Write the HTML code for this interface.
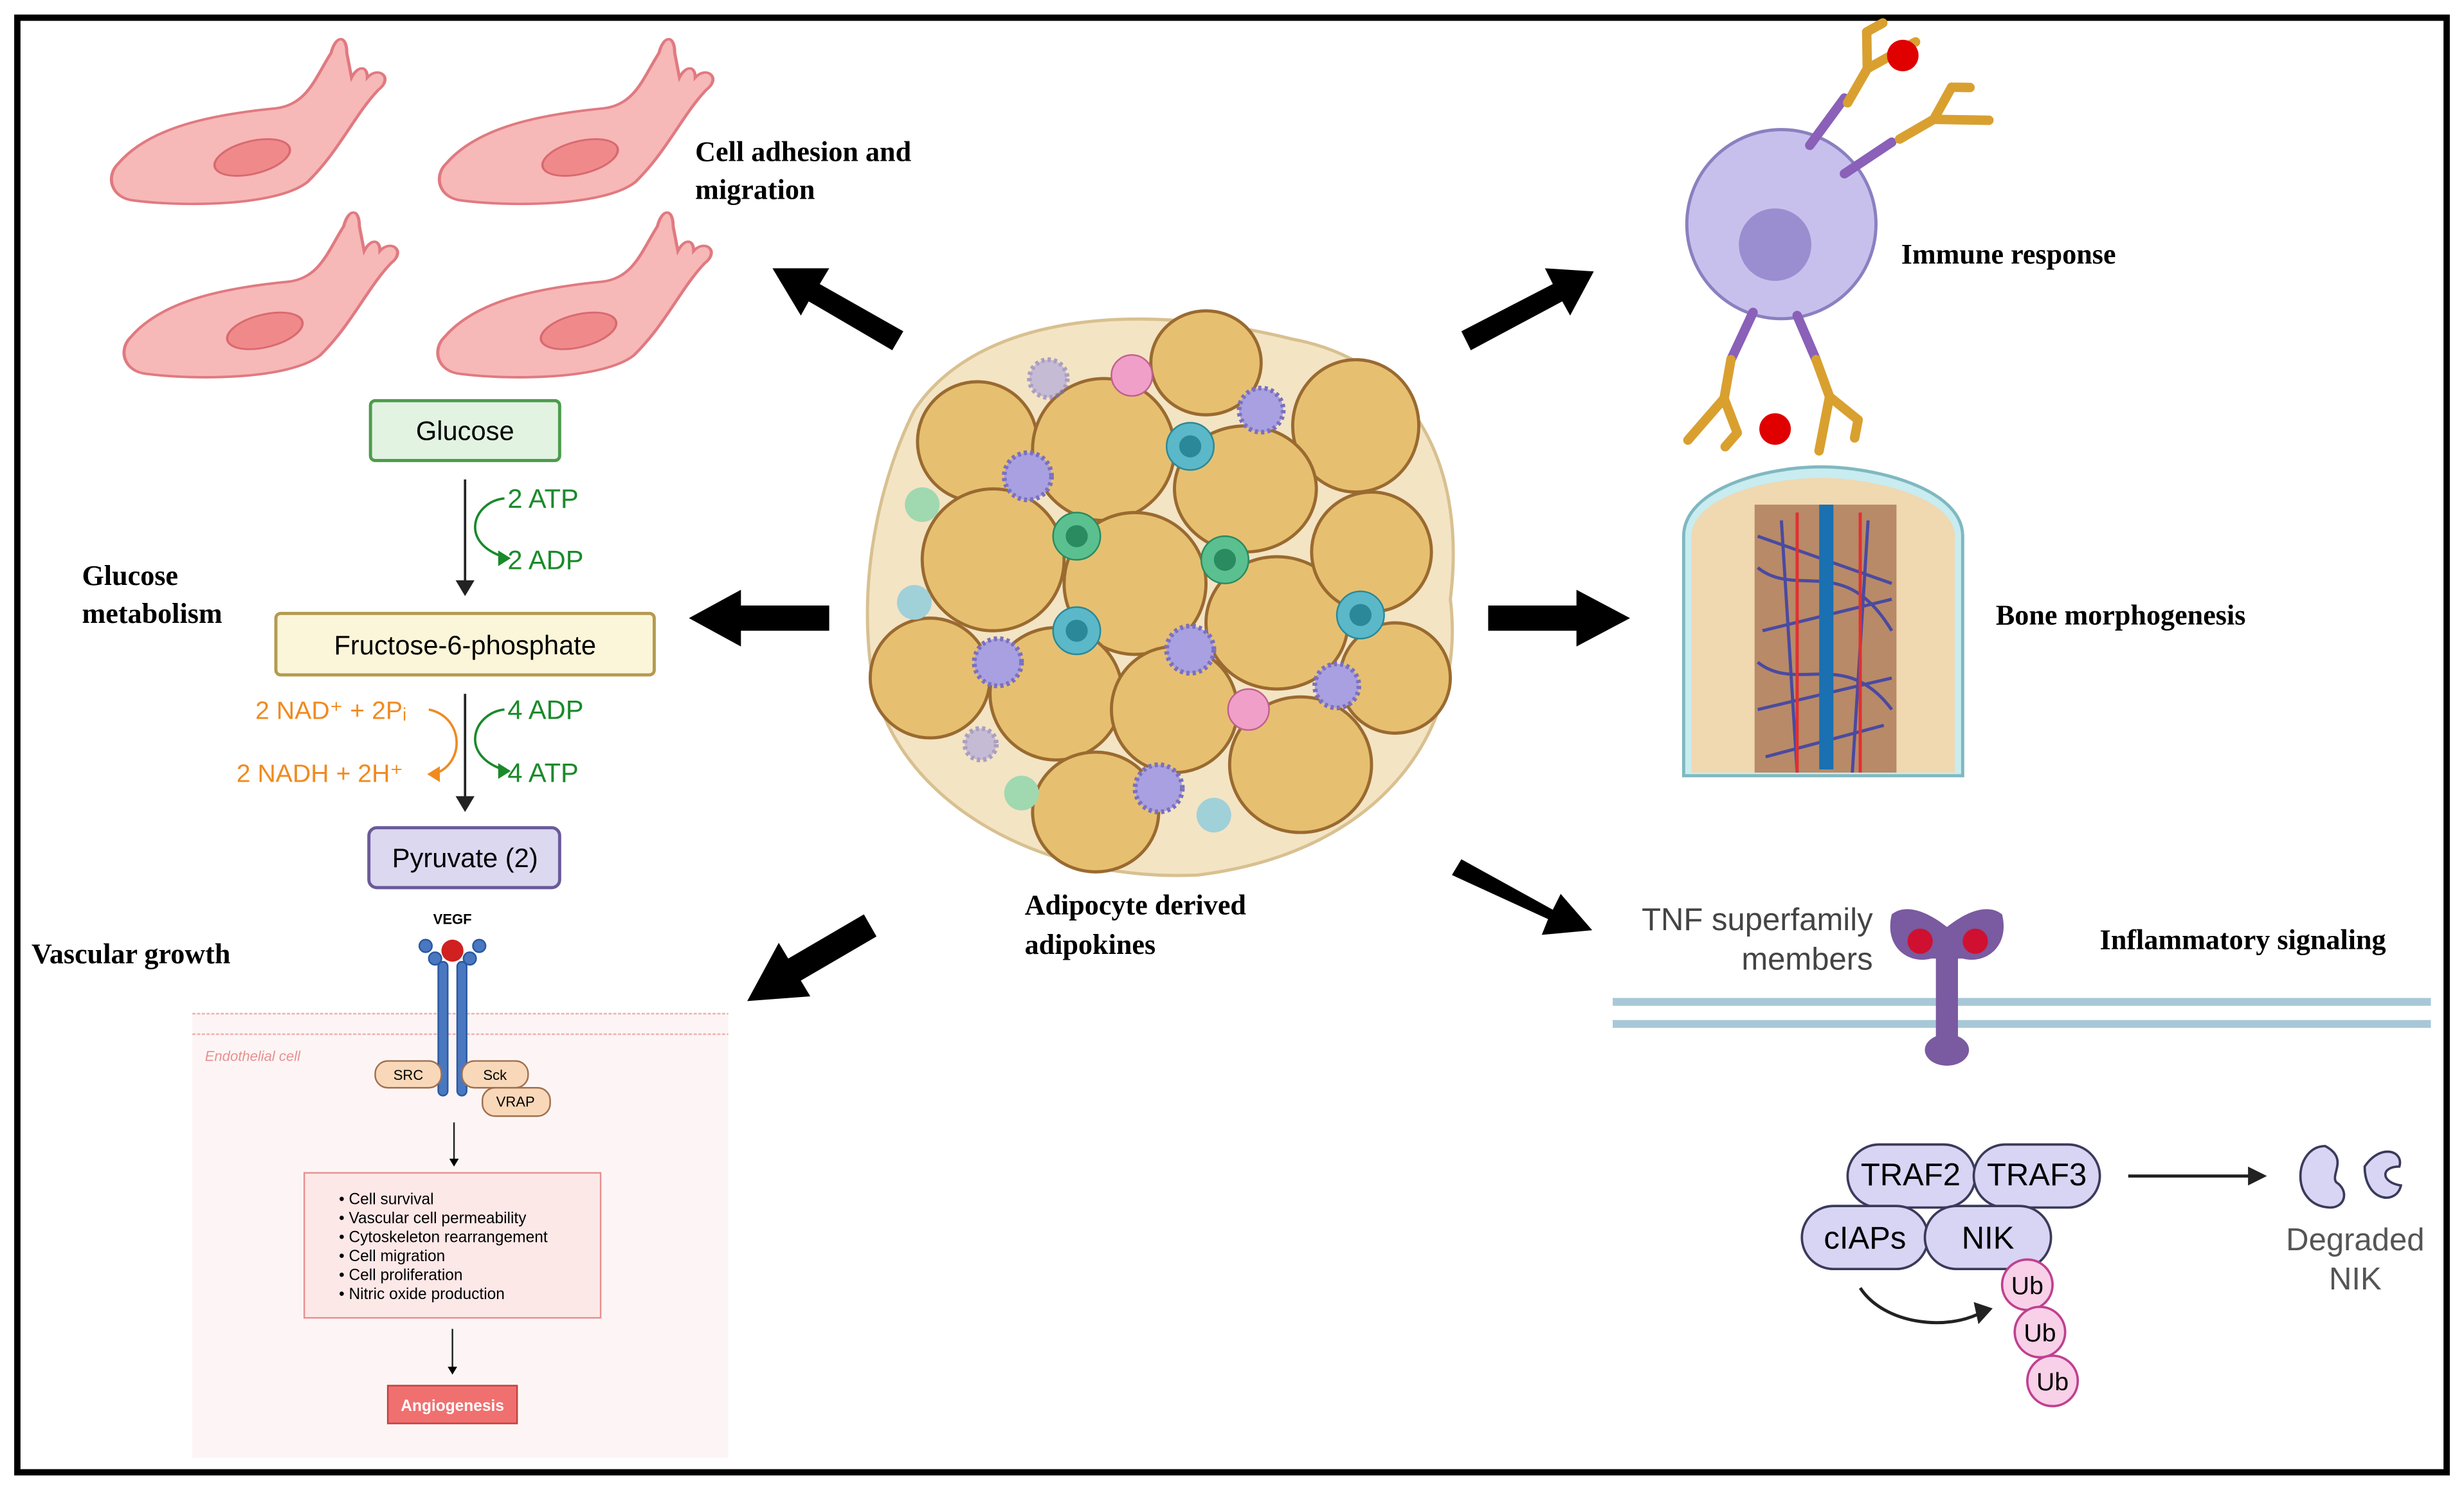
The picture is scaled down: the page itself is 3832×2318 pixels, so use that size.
<!DOCTYPE html>
<html><head><meta charset="utf-8">
<style>
html,body{margin:0;padding:0;background:#fff;}
svg{display:block;}
.lab{font-family:"Liberation Serif",serif;font-weight:bold;font-size:18px;fill:#000;}
.sans{font-family:"Liberation Sans",sans-serif;}
</style></head><body>
<svg width="3832" height="2318" viewBox="0 0 1563 945" xmlns="http://www.w3.org/2000/svg">
<rect x="0" y="0" width="1563" height="945" fill="#fff"/>
<rect x="11" y="11" width="1541" height="923" fill="none" stroke="#000" stroke-width="4"/>

<defs>
<g id="cell">
<path d="M0,70 C20,40 60,30 100,25 C120,22 125,0 135,-20 C138,-35 145,-35 145,-20 L148,0 C152,-10 158,-10 158,0 C165,-10 175,0 165,10 C150,30 140,60 120,85 C100,105 40,105 10,100 C-5,98 -8,80 0,70 Z" fill="#f7b8b8" stroke="#e07a80" stroke-width="2"/>
<ellipse cx="85" cy="65" rx="25" ry="13" fill="#f08a8a" stroke="#d86a70" stroke-width="1.5" transform="rotate(-20 85 65)"/>
</g>
<g id="ab" stroke="#d9a030" stroke-width="6" fill="none" stroke-linecap="round">
<path d="M0,0 L0,-25 M0,-25 L-12,-45 M0,-25 L12,-45 M-12,-45 L-6,-55 M12,-45 L18,-55"/>
</g>
</defs>
<use href="#cell" transform="translate(75,49) scale(1,0.78)"/>
<use href="#cell" transform="translate(283,49) scale(1,0.78)"/>
<use href="#cell" transform="translate(83,159) scale(1,0.78)"/>
<use href="#cell" transform="translate(282,159) scale(1,0.78)"/>
<text class="lab" x="441" y="102">Cell adhesion and</text>
<text class="lab" x="441" y="126">migration</text>

<text class="lab" x="52" y="371">Glucose</text>
<text class="lab" x="52" y="395">metabolism</text>
<rect x="235" y="254" width="120" height="38" rx="3" fill="#e2f3e2" stroke="#4c9c4c" stroke-width="2"/>
<text class="sans" x="295" y="279" font-size="17" text-anchor="middle">Glucose</text>
<line x1="295" y1="304" x2="295" y2="373" stroke="#222" stroke-width="1.5"/>
<path d="M289,368 L295,378 L301,368 Z" fill="#222"/>
<path d="M320,316 C300,318 290,345 322,354" fill="none" stroke="#1a8a2a" stroke-width="1.5"/>
<path d="M316,349 L324,354 L316,359 Z" fill="#1a8a2a"/>
<text class="sans" x="322" y="322" font-size="17" fill="#1a8a2a">2 ATP</text>
<text class="sans" x="322" y="361" font-size="17" fill="#1a8a2a">2 ADP</text>
<rect x="175" y="389" width="240" height="39" rx="3" fill="#fbf6d9" stroke="#b59a50" stroke-width="2"/>
<text class="sans" x="295" y="415" font-size="17" text-anchor="middle">Fructose-6-phosphate</text>
<line x1="295" y1="440" x2="295" y2="510" stroke="#222" stroke-width="1.5"/>
<path d="M289,505 L295,515 L301,505 Z" fill="#222"/>
<path d="M320,450 C300,452 290,480 322,489" fill="none" stroke="#1a8a2a" stroke-width="1.5"/>
<path d="M316,484 L324,489 L316,494 Z" fill="#1a8a2a"/>
<text class="sans" x="322" y="456" font-size="17" fill="#1a8a2a">4 ADP</text>
<text class="sans" x="322" y="496" font-size="17" fill="#1a8a2a">4 ATP</text>
<path d="M272,450 C295,455 295,485 275,491" fill="none" stroke="#f08a20" stroke-width="1.5"/>
<path d="M279,486 L271,491 L279,496 Z" fill="#f08a20"/>
<text class="sans" x="162" y="456" font-size="16" fill="#f08a20">2 NAD⁺ + 2Pᵢ</text>
<text class="sans" x="150" y="496" font-size="16" fill="#f08a20">2 NADH + 2H⁺</text>
<rect x="234" y="525" width="121" height="38" rx="5" fill="#dcd8f0" stroke="#6a5a9a" stroke-width="2"/>
<text class="sans" x="295" y="550" font-size="17" text-anchor="middle">Pyruvate (2)</text>

<text class="lab" x="20" y="611">Vascular growth</text>
<rect x="122" y="643" width="340" height="282" fill="#fdf5f5"/>
<line x1="122" y1="643" x2="462" y2="643" stroke="#f0b0b0" stroke-width="1" stroke-dasharray="2,1"/>
<line x1="122" y1="656" x2="462" y2="656" stroke="#f0b0b0" stroke-width="1" stroke-dasharray="2,1"/>
<text class="sans" x="130" y="673" font-size="9" fill="#e89090" font-style="italic">Endothelial cell</text>
<text class="sans" x="287" y="586" font-size="9" text-anchor="middle" font-weight="bold">VEGF</text>
<g fill="#4a78c0" stroke="#2a58a0" stroke-width="1">
<rect x="278" y="610" width="6" height="85" rx="3"/>
<rect x="290" y="610" width="6" height="85" rx="3"/>
<circle cx="270" cy="600" r="4"/><circle cx="304" cy="600" r="4"/>
<circle cx="276" cy="608" r="4"/><circle cx="298" cy="608" r="4"/>
</g>
<circle cx="287" cy="603" r="7" fill="#d02020"/>
<rect x="238" y="673" width="42" height="17" rx="8" fill="#f8d8b8" stroke="#a07050"/>
<text class="sans" x="259" y="685" font-size="9" text-anchor="middle">SRC</text>
<rect x="293" y="673" width="42" height="17" rx="8" fill="#f8d8b8" stroke="#a07050"/>
<text class="sans" x="314" y="685" font-size="9" text-anchor="middle">Sck</text>
<rect x="306" y="690" width="43" height="18" rx="8" fill="#f8d8b8" stroke="#a07050"/>
<text class="sans" x="327" y="702" font-size="9" text-anchor="middle">VRAP</text>
<line x1="288" y1="712" x2="288" y2="738" stroke="#222"/>
<path d="M285,735 L288,740 L291,735Z"/>
<rect x="193" y="744" width="188" height="92" fill="#fde8e8" stroke="#e89090"/>
<g class="sans" font-size="10">
<text x="215" y="764">•  Cell survival</text>
<text x="215" y="776">•  Vascular cell permeability</text>
<text x="215" y="788">•  Cytoskeleton rearrangement</text>
<text x="215" y="800">•  Cell migration</text>
<text x="215" y="812">•  Cell proliferation</text>
<text x="215" y="824">•  Nitric oxide production</text>
</g>
<line x1="287" y1="843" x2="287" y2="870" stroke="#222"/>
<path d="M284,867 L287,872 L290,867Z"/>
<rect x="246" y="879" width="82" height="24" fill="#f07070" stroke="#c04040"/>
<text class="sans" x="287" y="895" font-size="10" fill="#fff" text-anchor="middle" font-weight="bold">Angiogenesis</text>

<g fill="#000">
<path d="M573,210 L520,180 L526,170 L490,170 L508,200 L513,191 L566,222 Z"/>
<path d="M526,384 L470,384 L470,374 L437,392 L470,410 L470,400 L526,400 Z"/>
<path d="M548,580 L500,608 L494,598 L474,635 L514,632 L508,622 L556,594 Z"/>
<path d="M927,210 L985,180 L980,170 L1011,172 L996,200 L991,191 L933,222 Z"/>
<path d="M944,384 L1000,384 L1000,374 L1034,392 L1000,410 L1000,400 L944,400 Z"/>
<path d="M927,545 L985,577 L990,567 L1010,590 L978,593 L982,583 L921,555 Z"/>
</g>

<path d="M580,260 C620,200 720,190 820,215 C900,230 930,300 920,380 C930,460 880,540 760,555 C650,560 560,500 552,420 C545,360 560,300 580,260Z" fill="#f3e4c4" stroke="#d8c090" stroke-width="2"/>
<g fill="#e6c070" stroke="#9a6a30" stroke-width="2">
<ellipse cx="620" cy="280" rx="38" ry="38"/>
<ellipse cx="700" cy="285" rx="45" ry="45"/>
<ellipse cx="765" cy="230" rx="35" ry="33"/>
<ellipse cx="860" cy="270" rx="40" ry="42"/>
<ellipse cx="790" cy="310" rx="45" ry="40"/>
<ellipse cx="630" cy="355" rx="45" ry="45"/>
<ellipse cx="720" cy="370" rx="45" ry="45"/>
<ellipse cx="810" cy="395" rx="45" ry="42"/>
<ellipse cx="870" cy="350" rx="38" ry="38"/>
<ellipse cx="590" cy="430" rx="38" ry="38"/>
<ellipse cx="670" cy="440" rx="42" ry="42"/>
<ellipse cx="745" cy="450" rx="40" ry="40"/>
<ellipse cx="885" cy="430" rx="35" ry="35"/>
<ellipse cx="825" cy="485" rx="45" ry="43"/>
<ellipse cx="695" cy="515" rx="40" ry="38"/>
</g>
<g>
<circle cx="755" cy="283" r="15" fill="#5ab8c8" stroke="#2a8898"/><circle cx="755" cy="283" r="7" fill="#2a8898"/>
<circle cx="683" cy="340" r="15" fill="#5ac090" stroke="#2a8a60"/><circle cx="683" cy="340" r="7" fill="#2a8a60"/>
<circle cx="777" cy="355" r="15" fill="#5ac090" stroke="#2a8a60"/><circle cx="777" cy="355" r="7" fill="#2a8a60"/>
<circle cx="683" cy="400" r="15" fill="#5ab8c8" stroke="#2a8898"/><circle cx="683" cy="400" r="7" fill="#2a8898"/>
<circle cx="863" cy="390" r="15" fill="#5ab8c8" stroke="#2a8898"/><circle cx="863" cy="390" r="7" fill="#2a8898"/>
<circle cx="585" cy="320" r="11" fill="#a0d8b0"/><circle cx="580" cy="382" r="11" fill="#a0d0d8"/>
<circle cx="648" cy="503" r="11" fill="#a0d8b0"/><circle cx="770" cy="517" r="11" fill="#a0d0d8"/>
<g fill="#a8a0e0" stroke="#7a70c0" stroke-width="3" stroke-dasharray="2,2">
<circle cx="652" cy="302" r="15"/><circle cx="800" cy="260" r="14"/><circle cx="633" cy="420" r="15"/>
<circle cx="755" cy="412" r="15"/><circle cx="848" cy="435" r="14"/><circle cx="735" cy="500" r="15"/>
<circle cx="665" cy="240" r="12" opacity=".6"/><circle cx="622" cy="472" r="10" opacity=".6"/>
</g>
<circle cx="718" cy="238" r="13" fill="#f0a0c8" stroke="#c06090"/>
<circle cx="792" cy="450" r="13" fill="#f0a0c8" stroke="#c06090"/>
</g>
<text class="lab" x="650" y="580">Adipocyte derived</text>
<text class="lab" x="650" y="605">adipokines</text>

<circle cx="1130" cy="142" r="60" fill="#c8c0ec" stroke="#8a80c0" stroke-width="2"/>
<circle cx="1126" cy="155" r="23" fill="#9a8ed0"/>
<g stroke="#8a60b8" stroke-width="6" stroke-linecap="round">
<line x1="1148" y1="92" x2="1170" y2="62"/><line x1="1170" y1="110" x2="1200" y2="90"/>
<line x1="1112" y1="198" x2="1098" y2="228"/><line x1="1140" y1="200" x2="1152" y2="228"/>
</g>
<use href="#ab" transform="translate(1172,65) rotate(30)"/>
<use href="#ab" transform="translate(1205,88) rotate(60)"/>
<use href="#ab" transform="translate(1098,228) rotate(190)"/>
<use href="#ab" transform="translate(1152,228) rotate(160)"/>
<circle cx="1207" cy="35" r="10" fill="#e00000"/>
<circle cx="1126" cy="272" r="10" fill="#e00000"/>
<text class="lab" x="1206" y="167">Immune response</text>

<path d="M1068,340 C1068,310 1120,296 1155,296 C1190,296 1245,310 1245,340 L1245,492 L1068,492 Z" fill="#c8ecf0" stroke="#80b8c0" stroke-width="2"/>
<path d="M1073,340 C1073,316 1120,303 1155,303 C1190,303 1240,316 1240,340 L1240,490 L1073,490 Z" fill="#f0d8b0"/>
<rect x="1113" y="320" width="90" height="170" fill="#b88a68"/>
<g stroke="#4a4aa0" stroke-width="2" fill="none">
<path d="M1115,340 L1200,370 M1118,400 L1200,380 M1115,450 L1200,430 M1120,480 L1195,460 M1130,330 L1140,490 M1185,330 L1175,490 M1115,360 C1140,380 1170,350 1200,400 M1115,420 C1140,440 1170,410 1200,450"/>
</g>
<g stroke="#e03030" stroke-width="2"><line x1="1140" y1="325" x2="1140" y2="490"/><line x1="1180" y1="325" x2="1180" y2="490"/></g>
<rect x="1154" y="320" width="9" height="168" fill="#1a70b0"/>
<text class="lab" x="1266" y="396">Bone morphogenesis</text>

<text class="sans" x="1188" y="590" font-size="20" fill="#444" text-anchor="end">TNF superfamily</text>
<text class="sans" x="1188" y="615" font-size="20" fill="#444" text-anchor="end">members</text>
<text class="lab" x="1332" y="602">Inflammatory signaling</text>
<rect x="1023" y="633" width="519" height="5" fill="#a8c8d8"/>
<rect x="1023" y="647" width="519" height="5" fill="#a8c8d8"/>
<path d="M1200,580 C1195,600 1210,612 1225,608 L1235,608 L1245,608 C1260,612 1275,600 1270,580 C1260,572 1245,580 1235,588 C1225,580 1210,572 1200,580Z" fill="#7a5aa0"/>
<rect x="1228" y="605" width="14" height="65" fill="#7a5aa0"/>
<ellipse cx="1235" cy="666" rx="14" ry="10" fill="#7a5aa0"/>
<circle cx="1218" cy="597" r="8" fill="#d01030"/><circle cx="1253" cy="597" r="8" fill="#d01030"/>

<g class="sans" font-size="20">
<rect x="1172" y="726" width="81" height="40" rx="20" fill="#d8d4f4" stroke="#3a3a5a" stroke-width="1.5"/>
<text x="1212" y="752" text-anchor="middle">TRAF2</text>
<rect x="1252" y="726" width="80" height="40" rx="20" fill="#d8d4f4" stroke="#3a3a5a" stroke-width="1.5"/>
<text x="1292" y="752" text-anchor="middle">TRAF3</text>
<rect x="1143" y="765" width="80" height="40" rx="20" fill="#d8d4f4" stroke="#3a3a5a" stroke-width="1.5"/>
<text x="1183" y="792" text-anchor="middle">cIAPs</text>
<rect x="1221" y="765" width="80" height="40" rx="20" fill="#d8d4f4" stroke="#3a3a5a" stroke-width="1.5"/>
<text x="1261" y="792" text-anchor="middle">NIK</text>
</g>
<g class="sans" font-size="16">
<circle cx="1286" cy="815" r="16" fill="#f8d0e8" stroke="#c04090" stroke-width="1.5"/><text x="1286" y="821" text-anchor="middle">Ub</text>
<circle cx="1294" cy="845" r="16" fill="#f8d0e8" stroke="#c04090" stroke-width="1.5"/><text x="1294" y="851" text-anchor="middle">Ub</text>
<circle cx="1302" cy="876" r="16" fill="#f8d0e8" stroke="#c04090" stroke-width="1.5"/><text x="1302" y="882" text-anchor="middle">Ub</text>
</g>
<path d="M1180,817 C1195,840 1235,845 1258,832" fill="none" stroke="#222" stroke-width="2"/>
<path d="M1252,826 L1264,830 L1255,840Z" fill="#222"/>
<line x1="1350" y1="746" x2="1428" y2="746" stroke="#222" stroke-width="2"/>
<path d="M1426,740 L1438,746 L1426,752Z" fill="#222"/>
<path d="M1475,727 C1455,727 1452,765 1478,766 C1488,766 1490,755 1482,750 C1478,745 1490,735 1475,727Z" fill="#d8d4f4" stroke="#3a3a5a" stroke-width="1.5"/>
<path d="M1500,740 C1510,725 1525,730 1522,740 C1510,740 1510,750 1523,752 C1520,765 1500,762 1500,740Z" fill="#d8d4f4" stroke="#3a3a5a" stroke-width="1.5"/>
<text class="sans" x="1494" y="793" font-size="20" fill="#555" text-anchor="middle">Degraded</text>
<text class="sans" x="1494" y="818" font-size="20" fill="#555" text-anchor="middle">NIK</text>
</svg>
</body></html>
